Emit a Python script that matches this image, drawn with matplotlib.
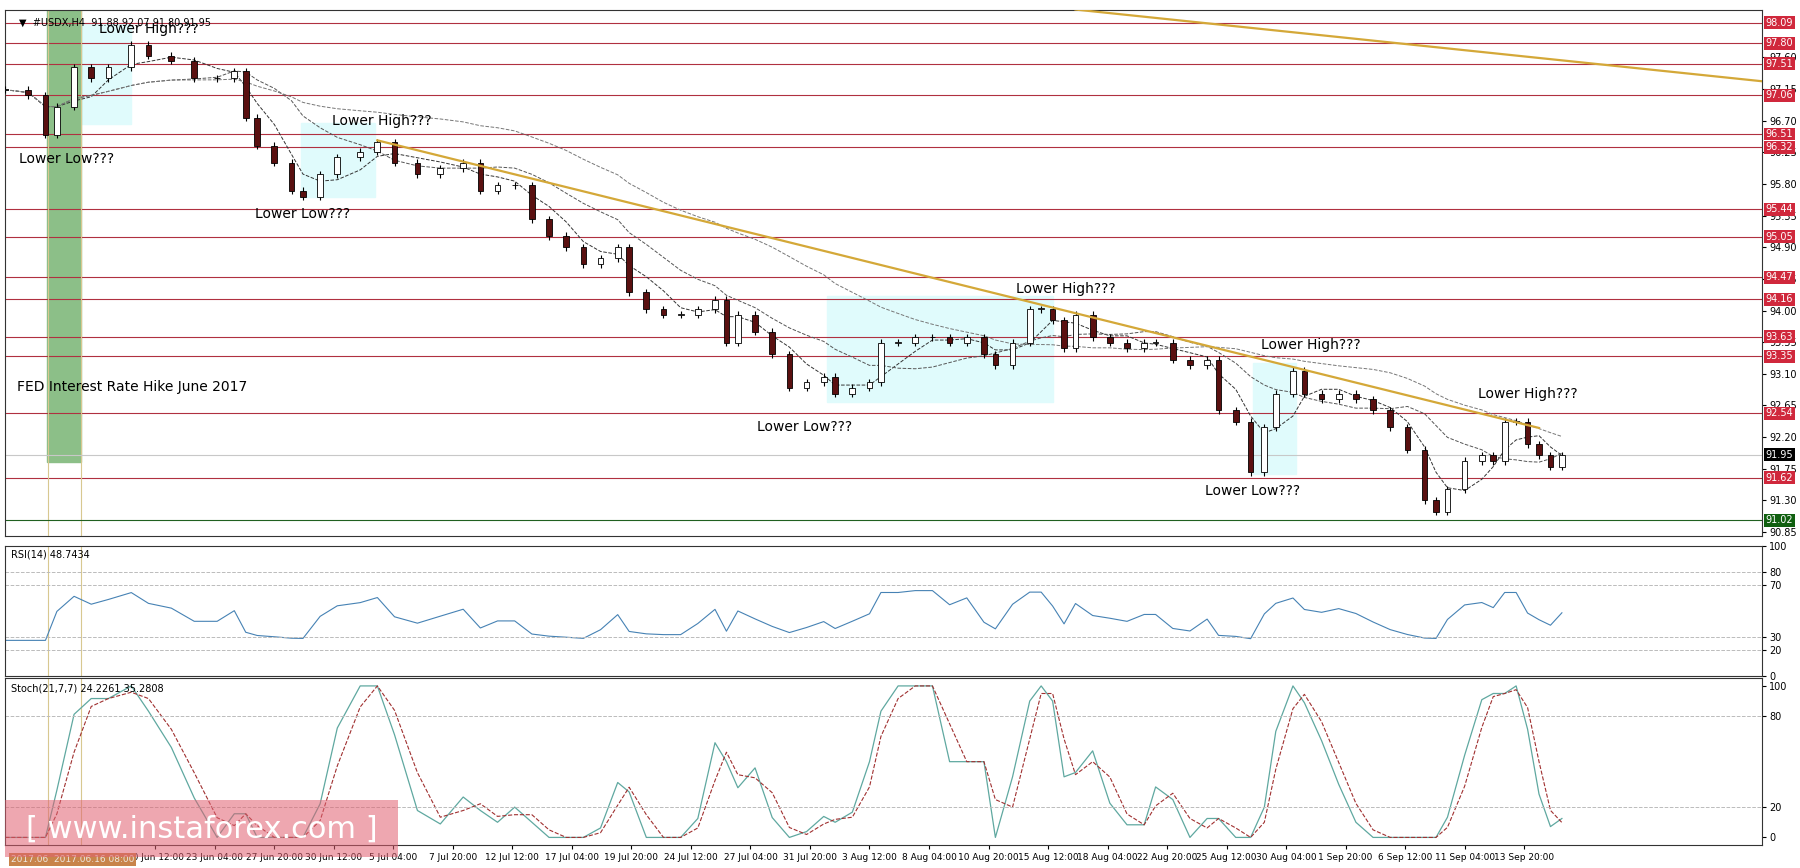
import numpy as np
import pandas as pd
import matplotlib.pyplot as plt
from matplotlib.patches import Rectangle

# price path (x in screen units, price)
xs = [0, 20, 35, 45, 60, 75, 90, 110, 125, 145, 165, 185, 200, 210, 220, 235, 250, 260, 275, 290,
      310, 325, 340, 360, 380, 400, 415, 430, 445, 460, 475, 490, 505, 520, 535, 545, 560, 575, 590, 605,
      620, 630, 640, 655, 670, 685, 700, 715, 725, 740, 755, 765, 780, 795, 810, 825, 840, 855, 865, 880,
      895, 905, 915, 925, 935, 950, 965, 980, 995, 1005, 1020, 1035, 1050, 1060, 1075, 1088, 1100, 1110, 1125, 1135,
      1150, 1165, 1180, 1195, 1210, 1225, 1240, 1250, 1260, 1275, 1290, 1300, 1310, 1320, 1330, 1340, 1350, 1360]
closes = [97.14, 97.06, 96.50, 96.90, 97.46, 97.30, 97.46, 97.78, 97.62, 97.55, 97.30, 97.30, 97.40, 96.74, 96.34, 96.10, 95.70, 95.62, 95.94, 96.18,
          96.26, 96.39, 96.10, 95.94, 96.02, 96.10, 95.70, 95.78, 95.78, 95.30, 95.06, 94.90, 94.66, 94.74, 94.90, 94.26, 94.02, 93.94, 93.94, 94.02,
          94.15, 93.54, 93.94, 93.70, 93.38, 92.90, 92.98, 93.06, 92.82, 92.90, 92.98, 93.54, 93.54, 93.62, 93.62, 93.54, 93.62, 93.38, 93.22, 93.54,
          94.02, 94.02, 93.86, 93.46, 93.94, 93.62, 93.54, 93.46, 93.54, 93.54, 93.30, 93.22, 93.30, 92.58, 92.42, 91.70, 92.34, 92.82, 93.14, 92.82,
          92.74, 92.82, 92.74, 92.58, 92.34, 92.02, 91.30, 91.14, 91.46, 91.86, 91.94, 91.86, 92.42, 92.42, 92.10, 91.94, 91.78, 91.94]

levels = [98.09, 97.80, 97.51, 97.06, 96.51, 96.32, 95.44, 95.05, 94.47, 94.16, 93.63, 93.35, 92.54, 91.62]
axis_ticks = [97.60, 97.15, 96.70, 96.25, 95.80, 95.35, 94.90, 94.45, 94.00, 93.55, 93.10, 92.65, 92.20, 91.75, 91.30, 90.85]
date_pos = [131, 183, 235, 287, 339, 391, 443, 495, 547, 599, 651, 703, 755, 807, 859, 911, 963, 1015,
            1067, 1119, 1171, 1223, 1275, 1327]
date_lbl = ['20 Jun 12:00', '23 Jun 04:00', '27 Jun 20:00', '30 Jun 12:00', '5 Jul 04:00', '7 Jul 20:00', '12 Jul 12:00',
            '17 Jul 04:00', '19 Jul 20:00', '24 Jul 12:00', '27 Jul 04:00', '31 Jul 20:00', '3 Aug 12:00', '8 Aug 04:00',
            '10 Aug 20:00', '15 Aug 12:00', '18 Aug 04:00', '22 Aug 20:00', '25 Aug 12:00', '30 Aug 04:00', '1 Sep 20:00',
            '6 Sep 12:00', '11 Sep 04:00', '13 Sep 20:00']
notes = [(82, 98.01, 'Lower High???'), (12, 96.15, 'Lower Low???'), (285, 96.70, 'Lower High???'),
         (218, 95.37, 'Lower Low???'), (883, 94.31, 'Lower High???'), (657, 92.34, 'Lower Low???'),
         (1097, 93.51, 'Lower High???'), (1048, 91.44, 'Lower Low???'), (1287, 92.82, 'Lower High???')]
boxes = [(37, 110, 96.65, 98.09), (258, 323, 95.62, 96.66), (718, 915, 92.7, 94.2), (1090, 1128, 91.67, 93.25)]

X = np.array(xs, float)
c = pd.Series(closes)
o = c.shift(1).fillna(c.iloc[0])
hi = np.maximum(o, c) + 0.05
lo = np.minimum(o, c) - 0.05

XMAX = 1535
fig = plt.figure(figsize=(18, 8.68), dpi=100)
W = 0.976
ax = fig.add_axes([0.003, 0.383, W, 0.606])
ax2 = fig.add_axes([0.003, 0.221, W, 0.150])
ax3 = fig.add_axes([0.003, 0.0265, W, 0.192])
for a in (ax, ax2, ax3):
    a.set_xlim(0, XMAX)
    a.yaxis.tick_right()
    a.tick_params(labelsize=7, length=3, pad=2)
    a.axvline(37, color='#d8c890', lw=0.8)
    a.axvline(66, color='#d8c890', lw=0.8)
    for s in a.spines.values():
        s.set_color('#333333')

# main panel
ax.set_ylim(90.80, 98.28)
ax.axvspan(36, 66, ymin=(91.85 - 90.80) / 7.48, ymax=1, color='#8cbf88', zorder=1)
for x0, x1, y0, y1 in boxes:
    ax.add_patch(Rectangle((x0, y0), x1 - x0, y1 - y0, color='#e0fbfc', zorder=0))
tag = dict(transform=ax.get_yaxis_transform(), fontsize=7, color='white', va='center', ha='left', clip_on=False)
for lv in levels:
    ax.axhline(lv, color='#b03040', lw=0.8, zorder=1)
    ax.text(1.002, lv, f'{lv:.2f}', bbox=dict(boxstyle='square,pad=0.15', fc='#d0283c', ec='none'), zorder=8, **tag)
ax.axhline(91.95, color='#c8c8c8', lw=0.8)
ax.text(1.002, 91.95, '91.95', bbox=dict(boxstyle='square,pad=0.15', fc='black', ec='none'), zorder=8, **tag)
ax.axhline(91.02, color='#206020', lw=0.8)
ax.text(1.002, 91.02, '91.02', bbox=dict(boxstyle='square,pad=0.15', fc='#106010', ec='none'), zorder=8, **tag)
ax.set_yticks(axis_ticks)
ax.set_yticklabels([f'{t:.2f}' for t in axis_ticks])
ax.set_xticks([])

ax.plot(X, c.rolling(4, min_periods=1).mean(), '--', color='#333333', lw=0.7, zorder=3)
ax.plot(X, c.rolling(10, min_periods=1).mean(), '--', color='#555555', lw=0.7, zorder=3)
ax.plot(X, c.rolling(25, min_periods=1).mean(), '--', color='#777777', lw=0.7, zorder=3)
for i in range(len(X)):
    ax.vlines(X[i], lo[i], hi[i], color='black', lw=0.8, zorder=4)
    col = 'white' if c[i] >= o[i] else '#5a1010'
    ax.add_patch(Rectangle((X[i] - 2.5, min(o[i], c[i])), 5, max(abs(c[i] - o[i]), 0.01),
                           fc=col, ec='black', lw=0.6, zorder=5))

ax.plot([325, 1340], [96.42, 92.33], color='#d4a838', lw=1.6, zorder=6)
ax.plot([935, XMAX], [98.28, 97.26], color='#d4a838', lw=1.6, zorder=6)
for x, y, t in notes:
    ax.text(x, y, t, fontsize=10, va='center', zorder=7)
ax.text(10, 92.91, 'FED Interest Rate Hike June 2017', fontsize=10, va='center', zorder=7)
ax.text(0.008, 0.985, '\u25bc  #USDX,H4  91.88 92.07 91.80 91.95', transform=ax.transAxes, fontsize=7, va='top')

# RSI panel
d = c.diff().fillna(0)
up = d.clip(lower=0).ewm(alpha=1 / 3, adjust=False).mean()
dn = (-d.clip(upper=0)).ewm(alpha=1 / 3, adjust=False).mean()
rsi = 100 - 100 / (1 + up / dn.replace(0, 1e-9))
rsi = 50 + (rsi - 50) * 0.45
ax2.plot(X, rsi, color='#4682b4', lw=0.8)
ax2.set_ylim(0, 100)
for lv in (80, 70, 30, 20):
    ax2.axhline(lv, color='#bbbbbb', ls='--', lw=0.7)
ax2.set_yticks([0, 20, 30, 70, 80, 100])
ax2.set_xticks([])
ax2.text(0.003, 0.97, 'RSI(14) 48.7434', transform=ax2.transAxes, fontsize=7, va='top')

# Stochastic panel
ll = c.rolling(5, min_periods=1).min()
hh = c.rolling(5, min_periods=1).max()
k = (100 * (c - ll) / (hh - ll).replace(0, 1)).rolling(2, min_periods=1).mean()
dline = k.rolling(2, min_periods=1).mean()
ax3.plot(X, k, color='#5fa8a0', lw=0.9)
ax3.plot(X, dline, '--', color='#a03030', lw=0.8)
ax3.set_ylim(-5, 105)
for lv in (80, 20):
    ax3.axhline(lv, color='#bbbbbb', ls='--', lw=0.7)
ax3.set_yticks([0, 20, 80, 100])
ax3.text(0.003, 0.97, 'Stoch(21,7,7) 24.2261 35.2808', transform=ax3.transAxes, fontsize=7, va='top')
ax3.set_xticks(date_pos)
ax3.set_xticklabels(date_lbl, fontsize=6.5)
ax3.tick_params(axis='x', length=3, pad=3)
ax3.text(5, -0.06, '2017.06  2017.06.16 08:00', transform=ax3.get_xaxis_transform(), fontsize=6.5,
         color='#eee8e0', va='top', bbox=dict(boxstyle='square,pad=0.2', fc='#c8844a', ec='none'))

fig.add_artist(Rectangle((0.003, 0.013), 0.218, 0.065, transform=fig.transFigure,
                         fc='#e06070', alpha=0.55, ec='none'))
fig.text(0.112, 0.045, '[ www.instaforex.com ]', color='white', fontsize=22, ha='center', va='center')

fig.savefig('out.png', dpi=100)
